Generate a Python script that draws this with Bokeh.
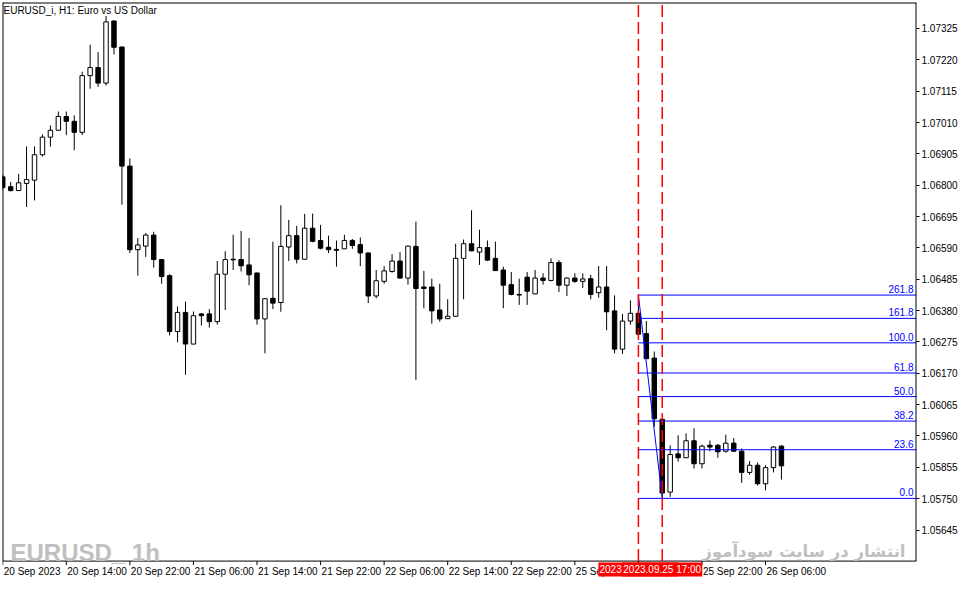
from bokeh.plotting import figure
from bokeh.models import Range1d, FixedTicker, PrintfTickFormatter, Label, LabelSet, ColumnDataSource
from bokeh.core.properties import value
from bokeh.embed import file_html
from bokeh.resources import INLINE

# EURUSD_i H1, one bar per hour: 20 Sep 2023 06:00 ... 26 Sep 2023 08:00
opens = [1.06828, 1.06795, 1.06782, 1.06806, 1.06817, 1.06902, 1.06961, 1.06984, 1.07030, 1.07014,
         1.06977, 1.07167, 1.07194, 1.07142, 1.07350, 1.07263, 1.06864, 1.06584, 1.06596, 1.06633,
         1.06551, 1.06497, 1.06310, 1.06374, 1.06268, 1.06369, 1.06369, 1.06343, 1.06502, 1.06552,
         1.06551, 1.06533, 1.06506, 1.06352, 1.06421, 1.06407, 1.06593, 1.06631, 1.06552, 1.06656,
         1.06615, 1.06592, 1.06585, 1.06587, 1.06615, 1.06601, 1.06573, 1.06429, 1.06478, 1.06511,
         1.06546, 1.06489, 1.06595, 1.06459, 1.06459, 1.06382, 1.06353, 1.06361, 1.06555, 1.06604,
         1.06576, 1.06591, 1.06555, 1.06516, 1.06467, 1.06434, 1.06492, 1.06436, 1.06489, 1.06481,
         1.06541, 1.06465, 1.06489, 1.06478, 1.06487, 1.06440, 1.06459, 1.06379, 1.06251, 1.06345,
         1.06371, 1.06303, 1.06221, 1.06016, 1.05772, 1.05900, 1.05887, 1.05944, 1.05867, 1.05929,
         1.05929, 1.05909, 1.05936, 1.05909, 1.05838, 1.05862, 1.05800, 1.05854, 1.05926]
highs = [1.06834, 1.06811, 1.06838, 1.06930, 1.06930, 1.06970, 1.07000, 1.07047, 1.07047, 1.07034,
         1.07180, 1.07271, 1.07246, 1.07367, 1.07353, 1.07264, 1.06890, 1.06623, 1.06640, 1.06644,
         1.06552, 1.06502, 1.06394, 1.06410, 1.06377, 1.06372, 1.06385, 1.06546, 1.06579, 1.06634,
         1.06647, 1.06623, 1.06507, 1.06421, 1.06611, 1.06733, 1.06684, 1.06664, 1.06704, 1.06705,
         1.06667, 1.06631, 1.06615, 1.06634, 1.06620, 1.06625, 1.06574, 1.06516, 1.06529, 1.06569,
         1.06576, 1.06598, 1.06678, 1.06513, 1.06487, 1.06470, 1.06418, 1.06604, 1.06618, 1.06716,
         1.06651, 1.06615, 1.06611, 1.06527, 1.06509, 1.06487, 1.06509, 1.06516, 1.06505, 1.06555,
         1.06549, 1.06491, 1.06505, 1.06505, 1.06500, 1.06529, 1.06529, 1.06431, 1.06369, 1.06414,
         1.06432, 1.06345, 1.06243, 1.06017, 1.05929, 1.05962, 1.05969, 1.05986, 1.05931, 1.05945,
         1.05933, 1.05964, 1.05953, 1.05918, 1.05876, 1.05871, 1.05862, 1.05926, 1.05929]
lows = [1.06785, 1.06779, 1.06781, 1.06727, 1.06749, 1.06896, 1.06929, 1.06983, 1.06968, 1.06917,
        1.06968, 1.07123, 1.07129, 1.07134, 1.07238, 1.06735, 1.06573, 1.06497, 1.06560, 1.06524,
        1.06470, 1.06297, 1.06274, 1.06165, 1.06267, 1.06330, 1.06323, 1.06333, 1.06382, 1.06516,
        1.06511, 1.06465, 1.06333, 1.06237, 1.06385, 1.06376, 1.06546, 1.06538, 1.06551, 1.06609,
        1.06585, 1.06573, 1.06527, 1.06586, 1.06587, 1.06529, 1.06405, 1.06421, 1.06470, 1.06507,
        1.06487, 1.06467, 1.06148, 1.06388, 1.06336, 1.06343, 1.06352, 1.06360, 1.06418, 1.06579,
        1.06533, 1.06546, 1.06513, 1.06388, 1.06431, 1.06399, 1.06399, 1.06435, 1.06467, 1.06478,
        1.06442, 1.06429, 1.06473, 1.06456, 1.06418, 1.06423, 1.06314, 1.06237, 1.06235, 1.06333,
        1.06296, 1.06218, 1.05991, 1.05751, 1.05756, 1.05874, 1.05886, 1.05851, 1.05851, 1.05909,
        1.05887, 1.05904, 1.05908, 1.05803, 1.05830, 1.05794, 1.05778, 1.05838, 1.05814]
closes = [1.06792, 1.06782, 1.06808, 1.06819, 1.06902, 1.06961, 1.06984, 1.07030, 1.07014, 1.06977,
          1.07167, 1.07194, 1.07142, 1.07347, 1.07262, 1.06864, 1.06584, 1.06600, 1.06633, 1.06551,
          1.06494, 1.06310, 1.06374, 1.06268, 1.06363, 1.06363, 1.06343, 1.06502, 1.06551, 1.06550,
          1.06530, 1.06500, 1.06352, 1.06420, 1.06405, 1.06595, 1.06631, 1.06552, 1.06656, 1.06612,
          1.06589, 1.06584, 1.06582, 1.06615, 1.06598, 1.06573, 1.06429, 1.06480, 1.06513, 1.06546,
          1.06489, 1.06596, 1.06454, 1.06454, 1.06379, 1.06352, 1.06361, 1.06555, 1.06604, 1.06580,
          1.06591, 1.06549, 1.06514, 1.06465, 1.06434, 1.06432, 1.06445, 1.06489, 1.06481, 1.06541,
          1.06465, 1.06489, 1.06478, 1.06486, 1.06434, 1.06459, 1.06376, 1.06251, 1.06345, 1.06371,
          1.06301, 1.06219, 1.06018, 1.05769, 1.05898, 1.05887, 1.05944, 1.05867, 1.05926, 1.05923,
          1.05907, 1.05936, 1.05909, 1.05838, 1.05862, 1.05800, 1.05854, 1.05923, 1.05860]

price_ticks = [1.05645, 1.05750, 1.05855, 1.05960, 1.06065, 1.06170, 1.06275, 1.06380, 1.06485,
               1.06590, 1.06695, 1.06800, 1.06905, 1.07010, 1.07115, 1.07220, 1.07325]
time_tick_bars = [0, 8, 16, 24, 32, 40, 48, 56, 64, 72, 80, 88, 96]
time_tick_labels = ["20 Sep 2023", "20 Sep 14:00", "20 Sep 22:00", "21 Sep 06:00", "21 Sep 14:00",
                    "21 Sep 22:00", "22 Sep 06:00", "22 Sep 14:00", "22 Sep 22:00", "25 Sep 06:00",
                    "25 Sep 14:00", "25 Sep 22:00", "26 Sep 06:00"]

# vertical markers (red dashed lines) and their date tags
marker_bars = [80, 83]
marker_labels = ["2023.09.25 14:00", "2023.09.25 17:00"]

# fibonacci tool: anchor points and level lines
fib_anchor_bars = [80, 83]
fib_anchor_prices = [1.06432, 1.05751]
fib_prices = [1.06432, 1.06354, 1.06272, 1.06171, 1.06092, 1.06010, 1.05914, 1.05751]
fib_labels = ["261.8", "161.8", "100.0", "61.8", "50.0", "38.2", "23.6", "0.0"]

W, H = 960, 577
BORDER_L, BORDER_T, BORDER_R = 2, 2, 40
X_START, X_END = -0.03, 115.0
# the frame reaches down to the canvas bottom; the time scale is drawn inside it
Y_START, Y_END = 1.05486, 1.07412
Y_AXIS = 1.05541
PX = (Y_END - Y_START) / (H - BORDER_T)   # price per screen pixel
FONT = "Liberation Sans"

bars = list(range(len(opens)))
src = ColumnDataSource(dict(
    x=bars, high=highs, low=lows,
    top=[max(o, c) for o, c in zip(opens, closes)],
    bottom=[min(o, c) for o, c in zip(opens, closes)],
    fill=["white" if c > o else "black" for o, c in zip(opens, closes)],
))

p = figure(width=W, height=H, x_range=Range1d(X_START, X_END), y_range=Range1d(Y_START, Y_END),
           x_axis_location=None, y_axis_location="right", toolbar_location=None,
           output_backend="svg", min_border_left=BORDER_L, min_border_top=BORDER_T,
           min_border_right=BORDER_R, min_border_bottom=0)
p.xgrid.visible = False
p.ygrid.visible = False
p.outline_line_color = None
p.background_fill_color = "white"
p.border_fill_color = "white"

p.yaxis.ticker = FixedTicker(ticks=price_ticks)
p.yaxis.formatter = PrintfTickFormatter(format="%.5f")
p.yaxis.major_tick_in = 0
p.yaxis.major_tick_out = 3
p.yaxis.minor_tick_out = 0
p.yaxis.major_label_standoff = 2
p.yaxis.major_label_text_font = FONT
p.yaxis.major_label_text_font_size = "10px"
p.yaxis.major_label_text_color = "black"
p.yaxis.axis_line_color = None

# chart border: left, top, right and the time axis line
p.segment(x0=[X_START, X_START, X_END, X_START], y0=[Y_AXIS, Y_END, Y_AXIS, Y_AXIS],
          x1=[X_START, X_END, X_END, X_END], y1=[Y_END, Y_END, Y_END, Y_AXIS],
          line_color="black", line_width=[2, 2, 2, 1])

# candles
p.segment(x0="x", y0="high", x1="x", y1="low", source=src, line_color="black", line_width=1)
p.vbar(x="x", top="top", bottom="bottom", width=0.56, source=src,
       fill_color="fill", line_color="black", line_width=1)

# fibonacci levels
for price in fib_prices:
    p.ray(x=fib_anchor_bars[0], y=price, length=0, angle=0, line_color="#0000ff", line_width=1)
p.line(fib_anchor_bars, fib_anchor_prices, line_color="#0000ff", line_width=1)
fib_src = ColumnDataSource(dict(x=[X_END] * len(fib_prices), y=fib_prices, t=fib_labels))
p.add_layout(LabelSet(x="x", y="y", text="t", source=fib_src, text_align="right",
                      text_baseline="bottom", x_offset=-3, y_offset=2, text_color="#0000ff",
                      text_font=value(FONT), text_font_size="10px"))

# red dashed vertical lines
p.segment(x0=marker_bars, y0=[Y_AXIS] * len(marker_bars), x1=marker_bars,
          y1=[Y_END] * len(marker_bars), line_color="#ff0000", line_dash="12 5", line_width=1.5)

# time scale: tick marks and left aligned labels
p.segment(x0=time_tick_bars, y0=[Y_AXIS] * len(time_tick_bars), x1=time_tick_bars,
          y1=[Y_AXIS - 4 * PX] * len(time_tick_bars), line_color="black", line_width=1)
p.text(x=time_tick_bars, y=[Y_AXIS - 5 * PX] * len(time_tick_bars), text=time_tick_labels,
       x_offset=1, text_align="left", text_baseline="top", text_color="black",
       text_font=value(FONT), text_font_size="10px")

# red date tags of the vertical lines, the later one drawn over the earlier one
tag_y = Y_AXIS - 8.5 * PX
for b, t in zip(marker_bars, marker_labels):
    p.rect(x=[b], y=[tag_y], width=80, height=14, width_units="screen", height_units="screen",
           fill_color="#ff0000", line_color=None)
    p.text(x=[b], y=[tag_y], text=[t], text_align="center", text_baseline="middle",
           text_color="white", text_font=value(FONT), text_font_size="10px")

# symbol caption and watermarks
p.add_layout(Label(x=1, y=H - BORDER_T - 2, x_units="screen", y_units="screen",
                   text="EURUSD_i, H1:  Euro vs US Dollar", text_baseline="top", text_color="black",
                   text_font=FONT, text_font_size="10px"))
p.add_layout(Label(x=8, y=25, x_units="screen", y_units="screen", text="EURUSD_ 1h",
                   text_baseline="alphabetic", text_color="#c0c0c0", text_font_style="bold",
                   text_font=FONT, text_font_size="24px"))
p.add_layout(Label(x=903, y=26, x_units="screen", y_units="screen", text="انتشار در سایت سودآموز",
                   text_align="right", text_baseline="alphabetic", text_color="#c0c0c0",
                   text_font_style="bold", text_font="DejaVu Sans", text_font_size="16.5px"))

open("out.html", "w", encoding="utf-8").write(file_html(p, INLINE))
